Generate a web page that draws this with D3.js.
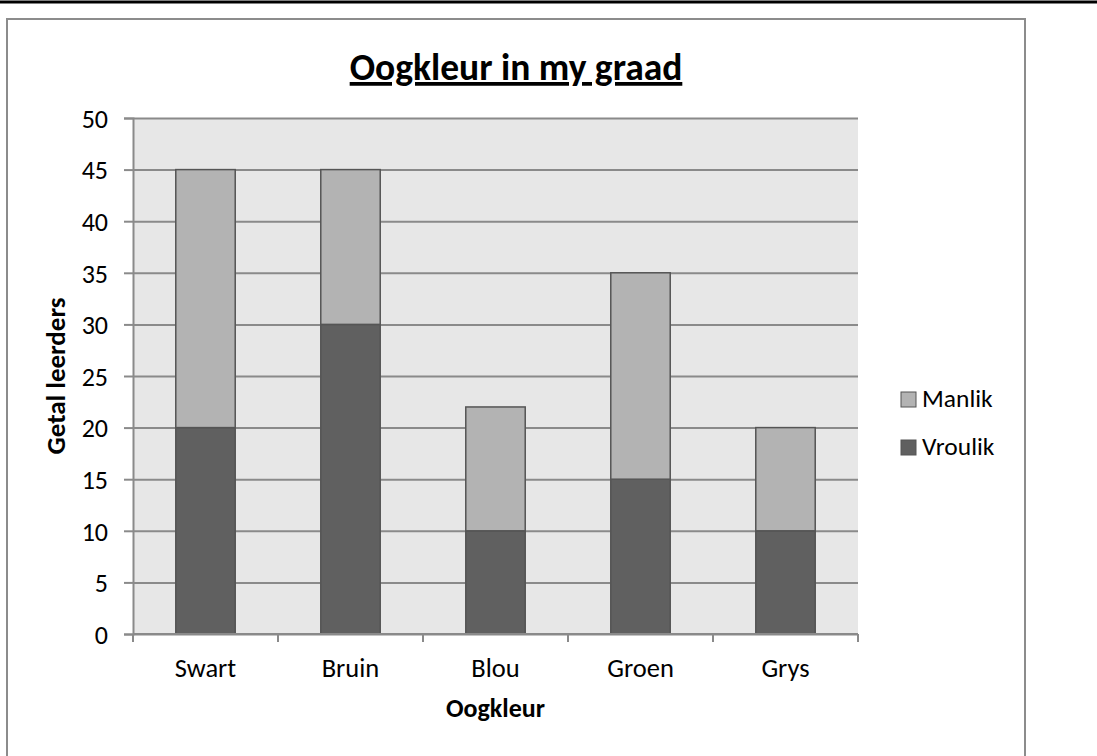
<html>
<head>
<meta charset="UTF-8">
<title>Oogkleur in my graad</title>
<script src="https://d3js.org/d3.v7.min.js"></script>
<style>html,body{margin:0;padding:0;background:#fff;}</style>
</head>
<body>
<div id="container"></div>
<script>
const categories = ['Swart', 'Bruin', 'Blou', 'Groen', 'Grys']
const vroulik = [20, 30, 10, 15, 10]
const manlik = [25, 15, 12, 20, 10]
const seriesNames = ['Vroulik', 'Manlik']
const yTicks = [0, 5, 10, 15, 20, 25, 30, 35, 40, 45, 50]

const colors = { Vroulik: '#606060', Manlik: '#b3b3b3' }
const font = 'Carlito, Lato, "Open Sans", sans-serif'

const width = 1097, height = 756
const plot = { left: 133, top: 118, right: 858, bottom: 634 }

const svg = d3.select('#container').append('svg')
  .attr('width', width)
  .attr('height', height)
  .style('font-family', font)

// top rule and chart frame
svg.append('line').attr('x1', 0).attr('x2', width).attr('y1', 2).attr('y2', 2)
  .attr('stroke', '#000').attr('stroke-width', 3)
svg.append('rect').attr('x', 7).attr('y', 19).attr('width', 1018).attr('height', 760)
  .attr('fill', 'none').attr('stroke', '#8c8c8c').attr('stroke-width', 2)

const x = d3.scaleBand().domain(categories).range([plot.left, plot.right]).paddingInner(0.59).paddingOuter(0.295)
const y = d3.scaleLinear().domain([0, 50]).range([plot.bottom, plot.top])

// plot background
svg.append('rect')
  .attr('x', plot.left).attr('y', plot.top)
  .attr('width', plot.right - plot.left).attr('height', plot.bottom - plot.top)
  .attr('fill', '#e7e7e7')

// gridlines + y axis
const yAxis = svg.append('g')
  .attr('transform', 'translate(' + plot.left + ',0)')
  .call(d3.axisLeft(y).tickValues(yTicks).tickSize(9).tickPadding(16))
yAxis.attr('font-size', null).attr('font-family', null)
yAxis.select('.domain').attr('stroke', '#8a8a8a').attr('stroke-width', 2)
yAxis.selectAll('.tick line').attr('stroke', '#8a8a8a').attr('stroke-width', 2)
  .clone().attr('x1', 0).attr('x2', plot.right - plot.left)
yAxis.selectAll('text').attr('fill', '#000').attr('dy', '0.36em')
  .style('font-size', '26px')

// stacked bars
const rows = categories.map((c, i) => ({ cat: c, Vroulik: vroulik[i], Manlik: manlik[i] }))
const stacked = d3.stack().keys(seriesNames)(rows)

svg.append('g').selectAll('g')
  .data(stacked)
  .enter().append('g')
  .attr('fill', d => colors[d.key])
  .selectAll('rect')
  .data(d => d)
  .enter().append('rect')
  .attr('x', d => x(d.data.cat))
  .attr('width', x.bandwidth())
  .attr('y', d => y(d[1]))
  .attr('height', d => y(d[0]) - y(d[1]))
  .attr('stroke', '#555')
  .attr('stroke-width', 1.5)

// x axis
const step = x.step()
const xAxis = svg.append('g').attr('transform', 'translate(0,' + plot.bottom + ')')
xAxis.append('line').attr('x1', plot.left).attr('x2', plot.right)
  .attr('stroke', '#8a8a8a').attr('stroke-width', 2)
xAxis.selectAll('.xt')
  .data(d3.range(categories.length + 1))
  .enter().append('line')
  .attr('x1', i => plot.left + i * step).attr('x2', i => plot.left + i * step)
  .attr('y1', 0).attr('y2', 8)
  .attr('stroke', '#8a8a8a').attr('stroke-width', 2)
xAxis.selectAll('.xl')
  .data(categories)
  .enter().append('text')
  .attr('x', d => x(d) + x.bandwidth() / 2)
  .attr('y', 43)
  .attr('text-anchor', 'middle')
  .style('font-size', '26.5px')
  .text(d => d)

// titles
svg.append('text')
  .attr('x', (plot.left + plot.right) / 2).attr('y', 717)
  .attr('text-anchor', 'middle')
  .style('font-size', '26px').style('font-weight', 'bold')
  .text('Oogkleur')

svg.append('text')
  .attr('transform', 'translate(65,' + (plot.top + plot.bottom) / 2 + ') rotate(-90)')
  .attr('text-anchor', 'middle')
  .style('font-size', '27px').style('font-weight', 'bold')
  .text('Getal leerders')

svg.append('text')
  .attr('x', 516).attr('y', 80)
  .attr('text-anchor', 'middle')
  .style('font-size', '37.5px').style('font-weight', 'bold')
  .style('text-decoration', 'underline')
  .text('Oogkleur in my graad')

// legend (Manlik on top)
const legend = svg.append('g').attr('transform', 'translate(901,392)')
const items = legend.selectAll('g')
  .data(seriesNames.slice().reverse())
  .enter().append('g')
  .attr('transform', (d, i) => 'translate(0,' + i * 48 + ')')
items.append('rect')
  .attr('width', 15).attr('height', 15)
  .attr('fill', d => colors[d])
  .attr('stroke', '#555').attr('stroke-width', 1)
items.append('text')
  .attr('x', 21).attr('y', 15)
  .style('font-size', '25.5px')
  .text(d => d)
</script>
</body>
</html>
